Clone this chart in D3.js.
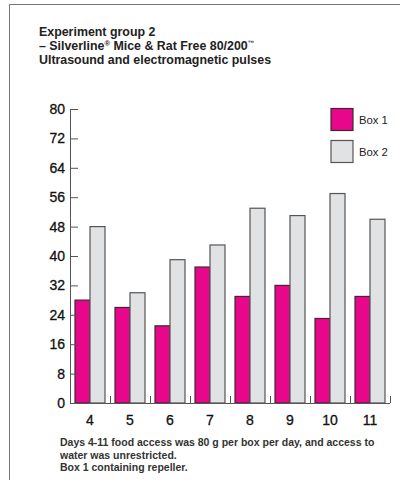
<!DOCTYPE html>
<html>
<head>
<meta charset="utf-8">
<script src="https://cdn.jsdelivr.net/npm/d3@7"></script>
<style>
  body { margin: 0; background: #fff; }
  svg { display: block; font-family: "Liberation Sans", Arial, sans-serif; }
</style>
</head>
<body>
<svg width="400" height="480"></svg>
<script>
const DAYS = ["4", "5", "6", "7", "8", "9", "10", "11"];
const BOX1 = [28, 26, 21, 37, 29, 32, 23, 29];
const BOX2 = [48, 30, 39, 43, 53, 51, 57, 50];
const SERIES = ["Box 1", "Box 2"];
const Y_TICKS = [0, 8, 16, 24, 32, 40, 48, 56, 64, 72, 80];

const colors = { "Box 1": "#e8068a", "Box 2": "#e1e2e4" };
const strokes = { "Box 1": "#3a2a30", "Box 2": "#555" };

var svg = d3.select("svg");

// frame: top and left rules only
svg.append("path")
   .attr("d", "M9.5,480 V4.5 H400")
   .attr("fill", "none")
   .attr("stroke", "#777")
   .attr("stroke-width", 1);

// title
var t = svg.append("g").attr("font-size", "12.4px").attr("font-weight", "bold").attr("fill", "#222");
t.append("text").attr("x", 39).attr("y", 36).text("Experiment group 2");
var t2 = t.append("text").attr("x", 39).attr("y", 50);
t2.append("tspan").text("\u2013 Silverline");
t2.append("tspan").attr("font-size", "7.5px").attr("dy", -4).text("\u00ae");
t2.append("tspan").attr("dy", 4).text(" Mice & Rat Free 80/200");
t2.append("tspan").attr("font-size", "6.5px").attr("dy", -5).text("\u2122");
t.append("text").attr("x", 39).attr("y", 64).text("Ultrasound and electromagnetic pulses");

var x = d3.scaleBand().domain(DAYS).range([70, 390]).paddingInner(0.25).paddingOuter(0.125);
var xs = d3.scaleBand().domain(SERIES).range([0, x.bandwidth()]);
var y = d3.scaleLinear().domain([0, 80]).range([403, 109]);

var rows = DAYS.map(function(d, i) { return { day: d, "Box 1": BOX1[i], "Box 2": BOX2[i] }; });

// bars
var groups = svg.append("g").selectAll("g")
    .data(rows)
    .enter().append("g")
    .attr("transform", function(d) { return "translate(" + x(d.day) + ",0)"; });

groups.selectAll("rect")
    .data(function(d) { return SERIES.map(function(s) { return { s: s, v: d[s] }; }); })
    .enter().append("rect")
    .attr("x", function(d) { return xs(d.s); })
    .attr("y", function(d) { return y(d.v); })
    .attr("width", xs.bandwidth())
    .attr("height", function(d) { return y(0) - y(d.v); })
    .attr("fill", function(d) { return colors[d.s]; })
    .attr("stroke", function(d) { return strokes[d.s]; })
    .attr("stroke-width", 1.2);

// y axis
var yAxis = svg.append("g")
    .attr("transform", "translate(70,0)")
    .call(d3.axisRight(y).tickValues(Y_TICKS).tickSize(8));
yAxis.select(".domain").attr("d", "M0.5," + y(80) + "V" + y(0)).attr("stroke", "#555");
yAxis.selectAll(".tick line").attr("stroke", "#555");
yAxis.selectAll(".tick text")
    .attr("text-anchor", "end")
    .attr("x", -5)
    .attr("font-size", "14px")
    .attr("font-family", "Liberation Sans, Arial, sans-serif")
    .attr("stroke", "#111")
    .attr("stroke-width", 0.3)
    .attr("fill", "#111");

// x axis
var xAxis = svg.append("g")
    .attr("transform", "translate(0," + y(0) + ")")
    .call(d3.axisBottom(x).tickSize(0).tickPadding(12));
xAxis.select(".domain").attr("d", "M70,0.5H390").attr("stroke", "#555");
xAxis.selectAll(".tick text")
    .attr("font-size", "14px")
    .attr("font-family", "Liberation Sans, Arial, sans-serif")
    .attr("stroke", "#111")
    .attr("stroke-width", 0.3)
    .attr("fill", "#111");

// separators between days
xAxis.selectAll(".sep")
    .data(DAYS)
    .enter().append("line")
    .attr("class", "sep")
    .attr("x1", function(d) { return x(d) + x.bandwidth() + x.step() * 0.125 + 0.5; })
    .attr("x2", function(d) { return x(d) + x.bandwidth() + x.step() * 0.125 + 0.5; })
    .attr("y1", 0)
    .attr("y2", -7)
    .attr("stroke", "#555");

// legend
var legend = svg.append("g").selectAll("g")
    .data(SERIES)
    .enter().append("g")
    .attr("transform", function(d, i) { return "translate(331," + (108.5 + i * 32) + ")"; });
legend.append("rect")
    .attr("width", 22)
    .attr("height", 22)
    .attr("fill", function(d) { return colors[d]; })
    .attr("stroke", function(d) { return strokes[d]; })
    .attr("stroke-width", 1.2);
legend.append("text")
    .attr("x", 28)
    .attr("y", 15)
    .attr("font-size", "11.3px")
    .attr("fill", "#222")
    .text(function(d) { return d; });

// footnote
var NOTES = [
  "Days 4-11 food access was 80 g per box per day, and access to",
  "water was unrestricted.",
  "Box 1 containing repeller."
];
svg.append("g").selectAll("text")
    .data(NOTES)
    .enter().append("text")
    .attr("x", 60)
    .attr("y", function(d, i) { return 446 + i * 12.5; })
    .attr("font-size", "10.5px")
    .attr("font-weight", "bold")
    .attr("fill", "#333")
    .text(function(d) { return d; });
</script>
</body>
</html>
